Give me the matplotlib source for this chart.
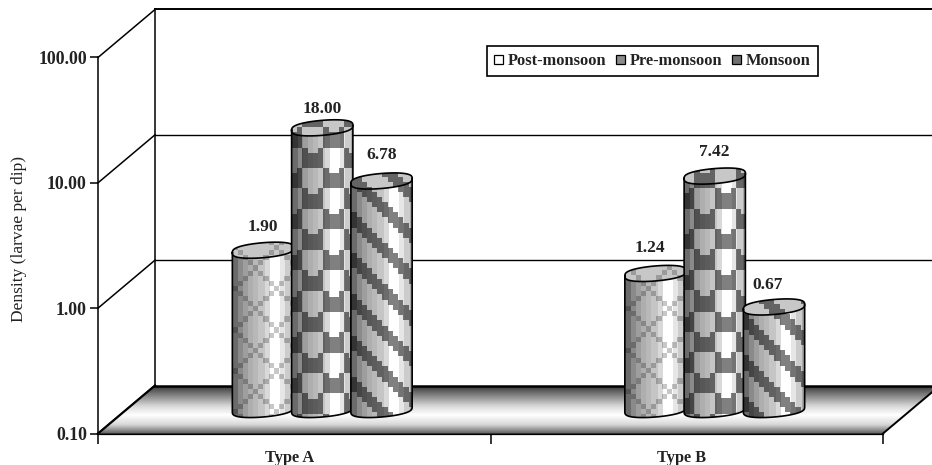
import numpy as np
import matplotlib
matplotlib.use('Agg')
import matplotlib.pyplot as plt
from matplotlib.patches import Polygon, Patch, PathPatch
from matplotlib.path import Path
from matplotlib.transforms import ScaledTranslation

categories = ['Type A', 'Type B']
series = ['Post-monsoon', 'Pre-monsoon', 'Monsoon']
post_monsoon = [1.90, 1.24]
pre_monsoon = [18.00, 7.42]
monsoon = [6.78, 0.67]
y_ticks = [0.1, 1, 10, 100]

plt.rcParams['font.family'] = ['Liberation Serif', 'DejaVu Serif']

W, H = 932, 465
DEPTH_X, DEPTH_Y = 57, 48       # back wall offset, pixels
BAR_X, BAR_Y = 28, 24           # bars stand part way into the floor
BAR_W = 0.151                   # in category units
CELL = 5.1                      # texture cell size, pixels
TEXT = '#222222'

fig = plt.figure(figsize=(W / 100, H / 100), dpi=100)
ax = fig.add_axes([98 / W, 1 - 433.5 / H, 785 / W, 376 / H])
ax.set_yscale('log')
ax.set_xlim(-0.5, 1.5)
ax.set_ylim(0.1, 100)
ax.patch.set_visible(False)
for side in ['top', 'right']:
    ax.spines[side].set_visible(False)
ax.spines['left'].set_linewidth(1.1)
ax.spines['bottom'].set_linewidth(1.6)
ax.set_yticks(y_ticks)
ax.set_yticklabels(['%.2f' % v for v in y_ticks], fontsize=12.8, fontweight='bold', color=TEXT)
ax.minorticks_off()
ax.tick_params(axis='y', length=6, width=1.1, pad=2)
ax.set_xticks([-0.5, 0.5, 1.5])
ax.set_xticklabels([])
ax.set_xticks([0, 1], labels=categories, minor=True)
ax.tick_params(axis='x', which='major', length=7, width=1.1)
ax.tick_params(axis='x', which='minor', length=0, pad=12, labelsize=11.8)
shift = ScaledTranslation(-5 / 100, 0, fig.dpi_scale_trans)
for t in ax.get_xticklabels(minor=True):
    t.set_fontweight('bold')
    t.set_color(TEXT)
    t.set_transform(t.get_transform() + shift)
ax.set_ylabel('Density (larvae per dip)', fontsize=12.5, color=TEXT)
ax.yaxis.set_label_coords((27 - 98) / 785, (433.5 - 239) / 376)

# overlay in pixel coordinates for the fake 3D parts
pix = fig.add_axes([0, 0, 1, 1])
pix.axis('off')


def to_px(x, y):
    dx, dy = ax.transData.transform((x, y))
    return dx, H - dy


fig.canvas.draw()
x0, y_floor = to_px(-0.5, 0.1)
x1, _ = to_px(1.5, 0.1)

# walls and gridlines
for v in y_ticks:
    _, yy = to_px(-0.5, v)
    pix.plot([x0, x0 + DEPTH_X], [yy, yy - DEPTH_Y], color='black', lw=1.1, zorder=1)
    if v > 0.1:
        pix.plot([x0 + DEPTH_X, W], [yy - DEPTH_Y, yy - DEPTH_Y], color='black',
                 lw=1.4 if v == 100 else 1.0, zorder=1)
_, y_top = to_px(-0.5, 100)
pix.plot([x0 + DEPTH_X, x0 + DEPTH_X], [y_top - DEPTH_Y, y_floor - DEPTH_Y], color='black', lw=1.1, zorder=1)

# floor with grey gradient
floor_pts = [(x0, y_floor), (x1, y_floor), (x1 + DEPTH_X, y_floor - DEPTH_Y), (x0 + DEPTH_X, y_floor - DEPTH_Y)]
floor_poly = Polygon(floor_pts, closed=True, facecolor='none', edgecolor='none', zorder=2)
pix.add_patch(floor_poly)
rows = np.arange(0, int(DEPTH_Y), 2) / DEPTH_Y
grad = np.interp(rows, [0, 0.15, 0.4, 0.58, 0.78, 0.92, 1], [0.25, 0.48, 0.85, 1.0, 0.85, 0.5, 0.28]).reshape(-1, 1)
im = pix.imshow(grad, cmap='gray', vmin=0, vmax=1, aspect='auto', interpolation='bilinear',
                extent=(x0, x1 + DEPTH_X, y_floor, y_floor - DEPTH_Y), zorder=2)
im.set_clip_path(floor_poly)
pix.plot([x0 + DEPTH_X, W], [y_floor - DEPTH_Y] * 2, color='black', lw=1.8, zorder=3)
pix.plot([x0, x0 + DEPTH_X], [y_floor, y_floor - DEPTH_Y], color='black', lw=1.6, zorder=3)
pix.plot([x1, W], [y_floor, y_floor - (W - x1) * DEPTH_Y / DEPTH_X], color='black', lw=1.4, zorder=3)

# fill patterns, 8x8 cells
tile_post = np.array([[1 if (c - r) % 8 == 0 or (c + r) % 8 == 0 else 0 for c in range(8)] for r in range(8)])
tile_pre = np.array([
    [1, 0, 0, 1, 0, 0, 0, 0],
    [1, 1, 1, 1, 0, 0, 0, 0],
    [1, 1, 1, 1, 0, 0, 0, 0],
    [1, 1, 1, 1, 0, 0, 0, 0],
    [0, 0, 0, 0, 1, 0, 0, 1],
    [0, 0, 0, 0, 1, 1, 1, 1],
    [0, 0, 0, 0, 1, 1, 1, 1],
    [0, 0, 0, 0, 1, 1, 1, 1],
])
tile_mon = np.array([[1 if (c - r) % 8 < 3 else 0 for c in range(8)] for r in range(8)])
tiles = [tile_post, tile_pre, tile_mon]
tile_dark = [0.78, 0.5, 0.5]
tile_x = [0, 10, 0]             # pattern phase from the left of the bar
tile_y = [0, 24.6, 18]          # pattern phase in page pixels
shade_band = np.array([0.42, 0.54, 0.62, 0.68, 0.72, 0.77, 0.85, 1.0, 1.0, 0.9, 0.8, 0.66])
label_dx = [[0, 0, 0], [-6, 0, -6]]
label_dy = [[0, 4, -3], [-2, -1, 1]]


def texture(tile, dark, w, h, col0, row0):
    xs = np.arange(int(w))
    ys = np.arange(int(h))
    col = np.floor((xs - col0) / CELL).astype(int) % 8
    row = np.floor((ys + row0) / CELL).astype(int) % 8
    band = shade_band[np.minimum((xs / w * 12).astype(int), 11)]
    return band, 1 - (1 - dark) * tile[np.ix_(row, col)]


def ell(cx, cy, a, t):
    # flattened ellipse, tilted by the oblique view
    s = np.sign(np.sin(t)) * np.abs(np.sin(t)) ** 0.7
    return cx + a * np.cos(t), cy - 2.5 * np.cos(t) - 7.5 * s


groups = [post_monsoon, pre_monsoon, monsoon]
for c in range(len(categories)):
    for s, vals in enumerate(groups):
        left, _ = to_px(c - 1.5 * BAR_W + s * BAR_W, 0.1)
        right, _ = to_px(c - 0.5 * BAR_W + s * BAR_W, 0.1)
        _, y_val = to_px(c, vals[c])
        cx = (left + right) / 2 + BAR_X
        a = (right - left) / 2 + 1
        top = y_val - BAR_Y + 1
        base = y_floor - BAR_Y
        z = 5 + s

        t_up = np.linspace(np.pi, 0, 60)
        t_dn = np.linspace(0, -np.pi, 60)
        ux, uy = ell(cx, top, a, t_up)
        bx, by = ell(cx, base, a, t_dn)
        body = np.column_stack([np.r_[ux, bx], np.r_[uy, by]])
        body_patch = PathPatch(Path(np.vstack([body, body[0]])), facecolor='none', edgecolor='none', zorder=z)
        pix.add_patch(body_patch)
        y_start = top - 10
        tex_h = base + 12 - y_start
        band, pat = texture(tiles[s], tile_dark[s], 2 * a + 1, tex_h, tile_x[s],
                            y_start - tile_y[s] + 20.4 * c)
        extent = (cx - a, cx + a + 1, y_start + tex_h, y_start)
        im = pix.imshow(band * pat, cmap='gray', vmin=0, vmax=1, aspect='auto', interpolation='nearest',
                        extent=extent, zorder=z)
        im.set_clip_path(body_patch)

        # top of the cylinder is greyer, no band shading
        cap = PathPatch(Path(np.column_stack(ell(cx, top, a, np.linspace(0, 2 * np.pi, 120)))),
                        facecolor='none', edgecolor='none', zorder=z + 0.05)
        pix.add_patch(cap)
        im = pix.imshow(0.78 * pat, cmap='gray', vmin=0, vmax=1, aspect='auto', interpolation='nearest',
                        extent=extent, zorder=z + 0.05)
        im.set_clip_path(cap)

        pix.plot(np.r_[body[:, 0], body[0, 0]], np.r_[body[:, 1], body[0, 1]], color='black', lw=1.2, zorder=z + 0.1)
        lx, ly = ell(cx, top, a, t_dn)
        pix.plot(lx, ly, color='black', lw=1.2, zorder=z + 0.1)

        pix.text(cx + label_dx[c][s], top - 23 + label_dy[c][s], '%.2f' % vals[c], ha='center', va='center',
                 fontsize=12.5, fontweight='bold', color=TEXT, zorder=10)

handles = [Patch(facecolor='white', edgecolor='black', lw=0.9),
           Patch(facecolor='#8c8c8c', edgecolor='black', lw=0.9),
           Patch(facecolor='#707070', edgecolor='black', lw=0.9)]
leg = pix.legend(handles, series, ncol=3, loc='center', bbox_to_anchor=(652.5 / W, 1 - 61.3 / H),
                 bbox_transform=fig.transFigure, frameon=True, fancybox=False, edgecolor='black',
                 framealpha=1, prop={'weight': 'bold', 'size': 11.8}, handlelength=0.5, handleheight=0.55,
                 handletextpad=0.31, columnspacing=0.62, borderpad=0.42, borderaxespad=0)
leg.get_frame().set_linewidth(1.2)
for t in leg.get_texts():
    t.set_color(TEXT)
leg.set_zorder(12)

pix.set_xlim(0, W)
pix.set_ylim(H, 0)

fig.savefig('out.png', dpi=100)
